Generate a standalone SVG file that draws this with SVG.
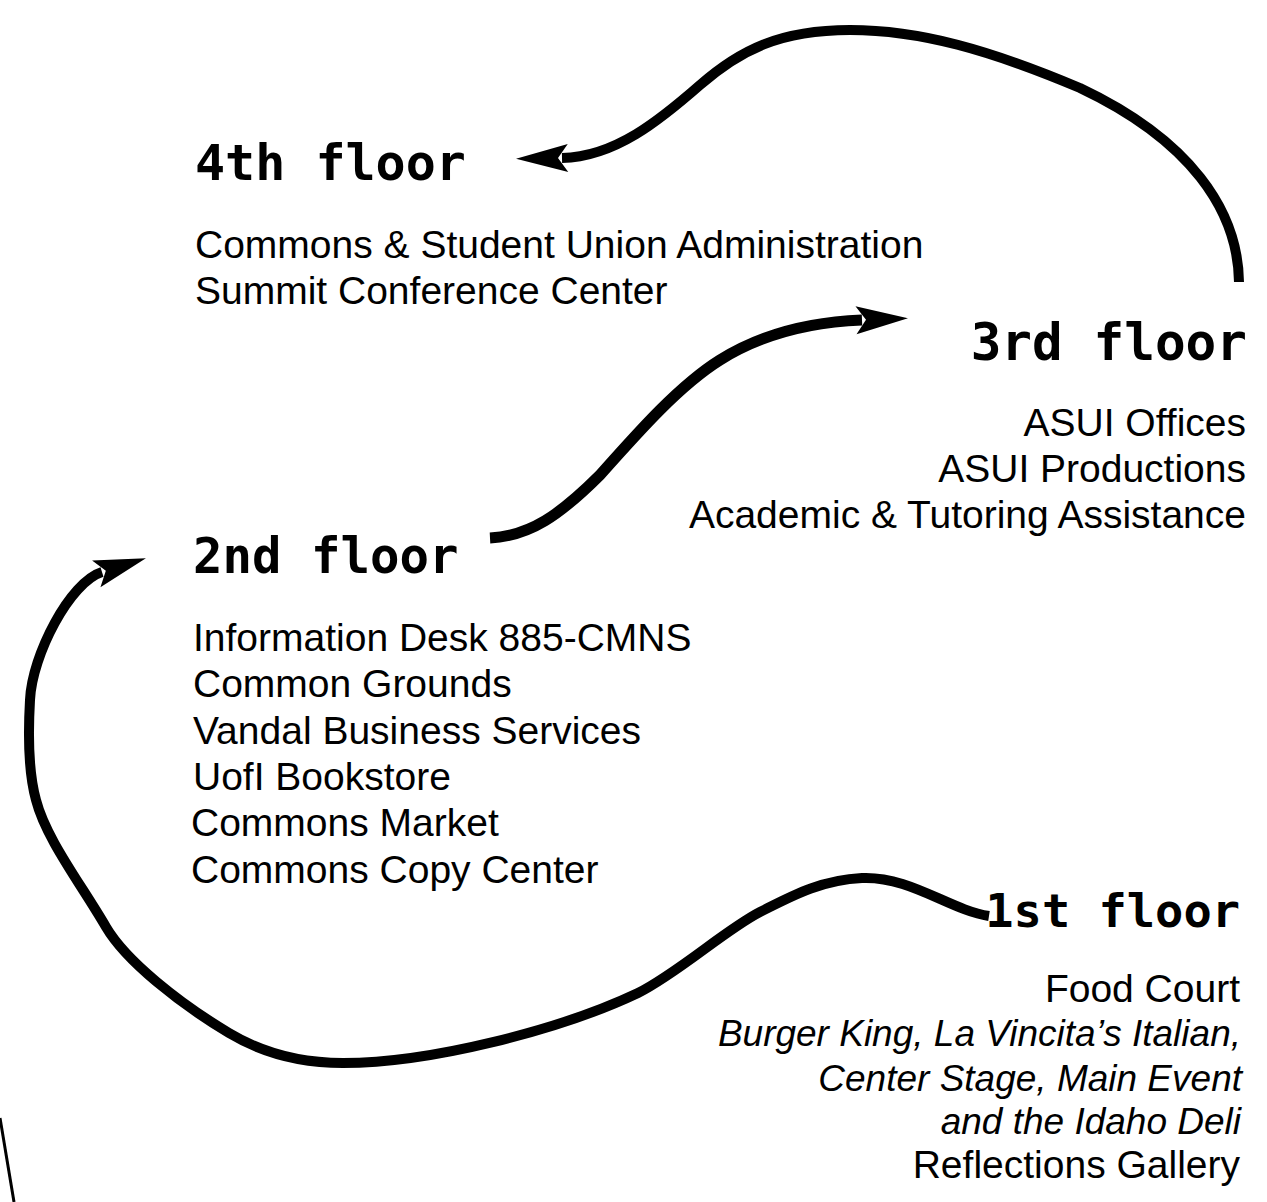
<svg xmlns="http://www.w3.org/2000/svg" width="1267" height="1202" viewBox="0 0 1267 1202">
  <style>
    .item { font-family: "Liberation Sans", Arial, Helvetica, sans-serif; font-size: 39px; fill: #000; }
    .it { font-style: italic; font-size: 37px; }
    .end { text-anchor: end; }
    .floor { font-family: "DejaVu Sans Mono", "Liberation Mono", monospace; font-weight: bold; font-size: 50px; fill: #000; }
    .flow { fill: none; stroke: #000; stroke-width: 10; stroke-linecap: butt; stroke-linejoin: round; }
  </style>
  <defs>
    <!-- solid arrowhead, tip 46 units beyond the end of the line -->
    <marker id="head" markerUnits="userSpaceOnUse" markerWidth="60" markerHeight="40" refX="0" refY="0" orient="auto" overflow="visible">
      <path d="M4,0 L-6,-14 L46,0 L-6,14 Z" fill="#000"/>
    </marker>
  </defs>

  <rect width="1267" height="1202" fill="#fff"/>

  <!-- routes between floors -->
  <g id="connectors">
    <!-- 3rd floor up to 4th floor -->
    <path class="flow" marker-end="url(#head)"
          d="M1239,282 C1238,210 1190,140 1080,88 C990,50 920,30 850,30 C780,30 740,50 700,85 C660,120 615,157 562,158"/>
    <!-- 2nd floor up to 3rd floor -->
    <path class="flow" style="stroke-width:11" marker-end="url(#head)"
          d="M490,538 C530,536 560,515 600,475 C640,430 680,385 720,360 C760,335 810,322 862,320"/>
    <!-- 1st floor round to 2nd floor -->
    <path class="flow" marker-end="url(#head)"
          d="M989,916 C950,910 910,876 862,878 C820,880 790,897 760,912 C725,930 678,973 638,993 C560,1030 430,1063 343,1063 C300,1063 264,1054 229,1033 C179,1003 126,961 106,927 C81,884 46,839 36,800 C28,771 28,735 30,700 C32,655 70,582 102,572"/>
    <!-- page edge stroke -->
    <path d="M0,1118 L14,1202" fill="none" stroke="#000" stroke-width="3"/>
  </g>

  <g id="floor4">
    <text class="floor" x="195" y="180">4th floor</text>
    <text class="item" x="195" y="258">Commons &amp; Student Union Administration</text>
    <text class="item" x="195" y="304">Summit Conference Center</text>
  </g>

  <g id="floor3">
    <text class="floor end" x="1247" y="360" style="font-size:51px">3rd floor</text>
    <text class="item end" x="1246" y="436">ASUI Offices</text>
    <text class="item end" x="1246" y="482">ASUI Productions</text>
    <text class="item end" x="1246" y="528">Academic &amp; Tutoring Assistance</text>
  </g>

  <g id="floor2">
    <text class="floor" x="193" y="573" style="font-size:49px">2nd floor</text>
    <text class="item" x="193" y="651">Information Desk 885-CMNS</text>
    <text class="item" x="193" y="697">Common Grounds</text>
    <text class="item" x="193" y="744">Vandal Business Services</text>
    <text class="item" x="193" y="790">UofI Bookstore</text>
    <text class="item" x="191" y="836">Commons Market</text>
    <text class="item" x="191" y="883">Commons Copy Center</text>
  </g>

  <g id="floor1">
    <text class="floor end" x="1240" y="927" style="font-size:47px">1st floor</text>
    <text class="item end" x="1240" y="1002">Food Court</text>
    <text class="item it end" x="1241" y="1046">Burger King, La Vincita’s Italian,</text>
    <text class="item it end" x="1242" y="1091">Center Stage, Main Event</text>
    <text class="item it end" x="1241" y="1134">and the Idaho Deli</text>
    <text class="item end" x="1240" y="1178">Reflections Gallery</text>
  </g>
</svg>
